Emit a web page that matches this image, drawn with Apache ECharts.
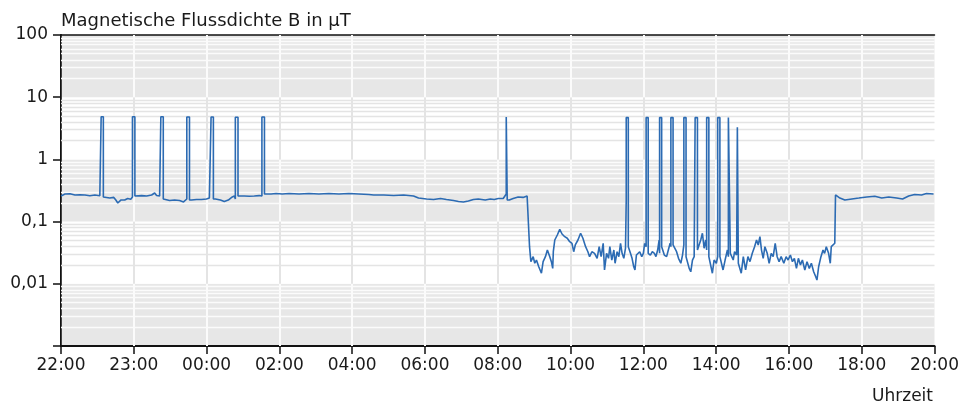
<!DOCTYPE html>
<html>
<head>
<meta charset="utf-8">
<script src="https://cdn.jsdelivr.net/npm/echarts@6/dist/echarts.min.js"></script>
<style>
  html, body { margin: 0; padding: 0; background: #fff; }
  #chart { width: 962px; height: 403px; }
</style>
</head>
<body>
<div id="chart"></div>
<script>
// x axis ticks, one step = 60 units
const xLabels = ['22:00', '23:00', '00:00', '02:00', '04:00', '06:00', '08:00', '10:00', '12:00', '14:00', '16:00', '18:00', '20:00']
const yLabels = { '-3': '', '-2': '0,01', '-1': '0,1', '0': '1', '1': '10', '2': '100' }

// base trace (axis units, µT)
const traceT = [
  0, 3.3, 7.4, 11.5, 15.6, 19.7, 23.8, 27.9, 32.0,
  36.1, 40.2, 43.5, 45.2, 46.8, 49.3, 52.5, 55.0, 57.5,
  62.4, 66.5, 70.6, 74.7, 77.2, 78.8, 81.3,
  85.4, 89.5, 93.6, 97.7, 101.0, 102.6,
  107.6, 111.7, 115.8, 119.9, 122.3,
  127.3, 131.4, 134.6, 137.9, 141.2, 142.9,
  147.0, 151.1, 155.2, 159.3, 163.4,
  169.1, 173.2, 177.3, 182.3, 188.0, 196.2, 204.4, 212.6, 220.8, 229.1, 237.3, 245.5, 253.7, 257.8,
  266.0, 274.2, 282.4, 290.6, 294.7, 301.3, 307.1, 312.8, 317.7, 323.5, 327.6, 331.7, 335.8, 339.9,
  344.0, 349.7, 353.9, 357.1, 360.4, 364.5,
  369.5, 372.7, 376.8, 380.9, 384.2, 385.7,
  386.2, 387.3, 389.2, 390.5, 391.9, 393.8, 396.0, 397.4, 399.3, 400.9, 402.9, 404.2, 405.3, 405.8,
  407.0, 409.1, 411.1, 413.0, 415.2, 417.3, 419.3, 421.2, 422.6, 423.9, 426.1, 428.3, 430.2, 432.4,
  434.3, 435.7, 437.6, 439.8, 441.9, 443.6, 445.2, 446.9, 448.0, 449.7, 451.3, 452.4, 454.0, 455.7,
  456.7, 458.4, 459.8, 461.2, 462.5, 463.9, 465.3,
  468.0, 469.4, 470.7, 472.1, 473.1, 474.3, 475.9, 477.0, 478.7, 480.0, 481.1,
  484.4, 485.8, 487.4, 489.1, 490.4, 491.8, 493.0,
  495.9, 497.3, 499.2, 500.6, 502.1,
  505.5, 507.4, 509.0, 510.9, 512.3,
  516.4, 517.8, 519.1, 520.5, 521.9,
  525.2, 527.3, 528.7, 530.1, 531.4,
  535.5, 536.9, 538.3, 540.2,
  544.3, 545.7, 547.4, 549.3,
  552.5, 554.1, 555.2, 556.9,
  558.9, 560.7, 562.4, 564.3, 566.2, 567.9, 569.8, 571.7, 573.3, 574.7, 576.1, 577.4, 578.8, 580.2,
  582.1, 583.7, 585.4, 587.0, 588.7, 590.3, 591.9, 593.6, 595.8, 597.7, 599.3, 601.2, 602.9, 604.5,
  606.2, 607.8, 609.5, 611.1, 613.1, 614.9, 616.8, 618.5, 620.4, 622.1, 623.1, 624.5, 626.4, 628.1,
  629.4, 630.8, 632.7, 634.1, 634.9, 636.3, 637.8,
  638.4, 642.0, 646.1, 651.9, 657.6, 664.2, 670.8, 676.5, 682.3, 688.8, 693.7, 698.7, 703.6, 709.3,
  713.4, 719.2
]
const traceB = [
  0.258, 0.278, 0.28, 0.268, 0.27, 0.268, 0.26, 0.268, 0.26,
  0.249, 0.239, 0.245, 0.222, 0.199, 0.222, 0.222, 0.235, 0.228,
  0.258, 0.262, 0.258, 0.268, 0.288, 0.262, 0.258,
  0.231, 0.218, 0.222, 0.218, 0.207, 0.199,
  0.222, 0.226, 0.226, 0.231, 0.239,
  0.231, 0.222, 0.21, 0.222, 0.249, 0.258,
  0.258, 0.258, 0.255, 0.258, 0.262,
  0.278, 0.278, 0.283, 0.278, 0.283, 0.278, 0.283, 0.278, 0.283, 0.278, 0.283, 0.278, 0.273, 0.268,
  0.268, 0.263, 0.268, 0.258, 0.239, 0.231, 0.226, 0.235, 0.226, 0.218, 0.21, 0.207, 0.214, 0.226,
  0.231, 0.222, 0.231, 0.226, 0.235, 0.235,
  0.222, 0.235, 0.249, 0.245, 0.258, 0.258,
  0.0395, 0.0227, 0.0273, 0.0214, 0.0241, 0.0188, 0.0148, 0.0227, 0.0273, 0.0349, 0.0273, 0.0227, 0.0177, 0.0328,
  0.0506, 0.0609, 0.075, 0.0632, 0.0572, 0.054, 0.0475, 0.0448, 0.0328, 0.0421, 0.0506, 0.065, 0.054, 0.0395,
  0.0328, 0.0273, 0.0328, 0.0309, 0.0257, 0.0395, 0.0273, 0.0448, 0.0167, 0.0309, 0.0257, 0.0395, 0.0241, 0.0349,
  0.0214, 0.0328, 0.0273, 0.0448, 0.0309, 0.0257, 0.0373,
  0.0395, 0.0309, 0.0257, 0.0188, 0.0167, 0.029, 0.0273, 0.0328, 0.0273, 0.0309, 0.0448,
  0.0309, 0.029, 0.0328, 0.0309, 0.0273, 0.0349, 0.0506,
  0.0395, 0.029, 0.0273, 0.0349, 0.045,
  0.0421, 0.0328, 0.0257, 0.0214, 0.029,
  0.0273, 0.0177, 0.0156, 0.0241, 0.0273,
  0.0349, 0.0506, 0.065, 0.0373, 0.0506,
  0.0273, 0.0148, 0.0241, 0.0214,
  0.0273, 0.0167, 0.0241, 0.0349,
  0.0309, 0.0241, 0.0328, 0.029,
  0.0214, 0.0148, 0.0273, 0.0167, 0.0273, 0.0227, 0.0309, 0.0395, 0.0506, 0.0421, 0.0572, 0.0349, 0.0257, 0.0395,
  0.0309, 0.0214, 0.0309, 0.0273, 0.0448, 0.0273, 0.0227, 0.0273, 0.0214, 0.0273, 0.0241, 0.029, 0.0227, 0.0257,
  0.0177, 0.0257, 0.0201, 0.0241, 0.0167, 0.0227, 0.0177, 0.0214, 0.0156, 0.013, 0.0115, 0.0188, 0.0273, 0.0349,
  0.0309, 0.0395, 0.0309, 0.0214, 0.0395, 0.0421, 0.0448,
  0.268, 0.239, 0.222, 0.231, 0.239, 0.249, 0.255, 0.239, 0.249, 0.239, 0.231, 0.258, 0.273, 0.268,
  0.283, 0.278
]

// switching spikes: start, end, top value
const spikeOn = [33.1, 58.9, 82.3, 103.7, 123.7, 143.7, 165.6, 367.0, 465.9, 482.3, 493.4, 502.7, 513.4, 522.7, 532.2, 541.3, 550.1, 557.5]
const spikeOff = [34.9, 60.9, 84.3, 105.9, 125.6, 145.9, 167.7, 367.8, 467.6, 484.0, 495.1, 504.5, 515.2, 524.6, 534.0, 543.1, 551.7, 558.3]
const spikeTop = [4.85, 4.85, 4.85, 4.8, 4.8, 4.75, 4.8, 4.8, 4.7, 4.7, 4.7, 4.7, 4.7, 4.7, 4.7, 4.7, 4.7, 3.3]

const decades = [0.001, 0.01, 0.1, 1, 10]
const grayBand = [true, false, true, false, true]

const buildSeries = () => {
  const pts = traceT.map((t, i) => [t, traceB[i]])
  spikeOn.forEach((t0, i) => {
    const t1 = spikeOff[i]
    const before = pts.filter(p => p[0] < t0).pop()
    const after = pts.find(p => p[0] > t1)
    pts.push([t0, before[1]], [t0, spikeTop[i]], [t1, spikeTop[i]], [t1, after[1]])
  })
  return pts.map((p, i) => ({ p, i })).sort((a, b) => a.p[0] - b.p[0] || a.i - b.i).map(o => o.p)
}

// log minor grid: white on grey bands, light grey on white bands
const buildGrid = () => {
  const lines = []
  decades.forEach((d, i) => {
    const color = grayBand[i] ? '#fbfbfb' : '#e4e4e4'
    for (let k = 2; k <= 9; k++) {
      lines.push([
        { coord: [0, k * d], lineStyle: { color, width: 1.4, type: 'solid' } },
        { coord: [720, k * d] }
      ])
    }
    for (let j = 1; j < xLabels.length - 1; j++) {
      lines.push([
        { coord: [j * 60, d], lineStyle: { color, width: 2, type: 'solid' } },
        { coord: [j * 60, d * 10] }
      ])
    }
  })
  return lines
}

const chart = echarts.init(document.getElementById('chart'))
const font = 'DejaVu Sans'

chart.setOption({
  animation: false,
  title: [
    {
      text: 'Magnetische Flussdichte B in µT',
      left: 56, top: 7,
      textStyle: { fontFamily: font, fontSize: 18, fontWeight: 'normal', color: '#1a1a1a' }
    },
    {
      text: 'Uhrzeit',
      right: 24, top: 383,
      textStyle: { fontFamily: font, fontSize: 17, fontWeight: 'normal', color: '#1a1a1a' }
    }
  ],
  grid: { left: 61, right: 23, top: 35, bottom: 57, containLabel: false },
  xAxis: [
    {
      type: 'value', min: 0, max: 720, interval: 60,
      axisLine: { lineStyle: { color: '#111', width: 2 } },
      axisTick: { length: 8, lineStyle: { color: '#111', width: 1.5 } },
      axisLabel: {
        margin: 11, fontFamily: font, fontSize: 17, color: '#1a1a1a',
        formatter: v => xLabels[Math.round(v / 60)]
      },
      splitLine: { show: false }
    },
    {
      type: 'value', min: 0, max: 720, position: 'top',
      axisLine: { show: true, lineStyle: { color: '#111', width: 1.5 } },
      axisTick: { show: false }, axisLabel: { show: false }, splitLine: { show: false }
    }
  ],
  yAxis: [
    {
      type: 'log', logBase: 10, min: 0.001, max: 100,
      axisLine: { show: true, lineStyle: { color: '#111', width: 2 } },
      axisTick: { show: true, length: 8, lineStyle: { color: '#111', width: 1.5 } },
      axisLabel: {
        margin: 13, fontFamily: font, fontSize: 17, color: '#1a1a1a',
        formatter: v => yLabels[String(Math.round(Math.log10(v)))]
      },
      splitLine: { show: false },
      splitArea: { show: true, areaStyle: { color: ['#e7e7e7', '#ffffff'] } }
    },
    {
      type: 'log', logBase: 10, min: 0.001, max: 100, position: 'right',
      axisLine: { show: true, lineStyle: { color: '#444', width: 1 } },
      axisTick: { show: false }, axisLabel: { show: false }, splitLine: { show: false }
    }
  ],
  series: [
    {
      type: 'line',
      data: [],
      z: 1,
      silent: true,
      markLine: {
        silent: true,
        symbol: ['none', 'none'],
        label: { show: false },
        animation: false,
        data: buildGrid()
      }
    },
    {
      type: 'line',
      data: buildSeries(),
      showSymbol: false,
      z: 5,
      lineStyle: { color: '#2c6bb3', width: 1.6 },
      itemStyle: { color: '#2c6bb3' }
    }
  ]
})
</script>
</body>
</html>
